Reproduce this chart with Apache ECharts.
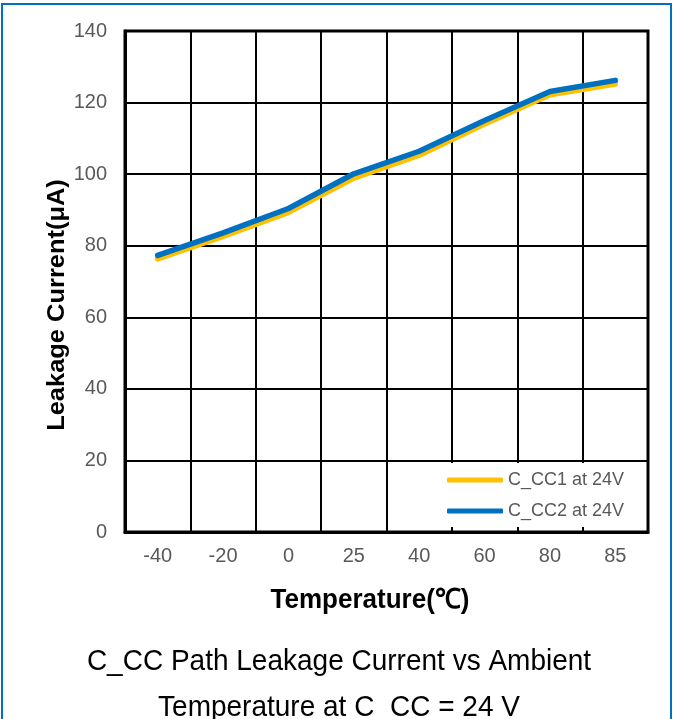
<!DOCTYPE html>
<html><head><meta charset="utf-8">
<script src="https://cdn.jsdelivr.net/npm/echarts@6/dist/echarts.min.js"></script>
<style>html,body{margin:0;padding:0;background:#fff;}#c{width:675px;height:719px;}</style>
</head><body><div id="c"></div>
<script>
var categories = ['-40', '-20', '0', '25', '40', '60', '80', '85'];
var cc1 = [76.3, 82.6, 89.3, 98.9, 105.3, 114.0, 122.2, 125.2];
var cc2 = [77.3, 83.6, 90.4, 100.1, 106.4, 115.0, 123.1, 126.2];
var seriesNames = ['C_CC1 at 24V', 'C_CC2 at 24V'];
var yTicks = {min: 0, max: 140, interval: 20};

var FONT = '"Liberation Sans", Arial, sans-serif';
var chart = echarts.init(document.getElementById('c'));
chart.setOption({
  animation: false,
  backgroundColor: '#fff',
  textStyle: {fontFamily: FONT},
  grid: {left: 125, right: 27, top: 31, bottom: 187, show: true, borderColor: '#000', borderWidth: 3, z: 3},
  xAxis: {
    type: 'category', data: categories, boundaryGap: true,
    axisLine: {lineStyle: {color: '#000', width: 3}},
    axisTick: {show: true, inside: true, length: 5, lineStyle: {color: '#000', width: 2}},
    axisLabel: {color: '#595959', fontSize: 20, margin: 14, fontFamily: FONT},
    splitLine: {show: true, lineStyle: {color: '#000', width: 2}}
  },
  yAxis: {
    type: 'value', min: yTicks.min, max: yTicks.max, interval: yTicks.interval,
    axisLine: {show: true, lineStyle: {color: '#000', width: 3}},
    axisTick: {show: false},
    axisLabel: {color: '#595959', fontSize: 20, margin: 18, fontFamily: FONT},
    splitLine: {show: true, lineStyle: {color: '#000', width: 2}}
  },
  legend: {
    orient: 'vertical', left: 395, top: 463,
    padding: [8, 20, 7, 52], itemGap: 13,
    backgroundColor: '#fff',
    itemWidth: 56, itemHeight: 5, icon: 'roundRect',
    textStyle: {color: '#595959', fontSize: 18, fontFamily: FONT},
    data: seriesNames
  },
  series: [
    {name: seriesNames[0], type: 'line', data: cc1, showSymbol: false, symbol: 'none',
     lineStyle: {color: '#FFC000', width: 5.5, cap: 'round', join: 'round'}, itemStyle: {color: '#FFC000'}, z: 4},
    {name: seriesNames[1], type: 'line', data: cc2, showSymbol: false, symbol: 'none',
     lineStyle: {color: '#0070C0', width: 5.5, cap: 'round', join: 'round'}, itemStyle: {color: '#0070C0'}, z: 5}
  ],
  graphic: [
    {type: 'rect', shape: {x: 2, y: 4, width: 669, height: 760}, style: {fill: 'none', stroke: '#0070C0', lineWidth: 2}, z: 10},
    {type: 'text', x: 57, y: 305, rotation: Math.PI / 2, scaleX: 1.06, style: {text: 'Leakage Current(μA)', font: 'bold 24px ' + FONT, fill: '#000', textAlign: 'center', textVerticalAlign: 'middle'}},
    {type: 'text', x: 370, y: 600, scaleY: 1.06, style: {text: 'Temperature(℃)', font: 'bold 26px ' + FONT, fill: '#000', textAlign: 'center', textVerticalAlign: 'middle'}},
    {type: 'text', x: 339, y: 662, scaleY: 1.06, style: {text: 'C_CC Path Leakage Current vs Ambient', font: '28px ' + FONT, fill: '#000', textAlign: 'center', textVerticalAlign: 'middle'}},
    {type: 'text', x: 339, y: 708, scaleY: 1.06, style: {text: 'Temperature at C_CC = 24 V', font: '28px ' + FONT, fill: '#000', textAlign: 'center', textVerticalAlign: 'middle'}}
  ]
});
</script></body></html>
